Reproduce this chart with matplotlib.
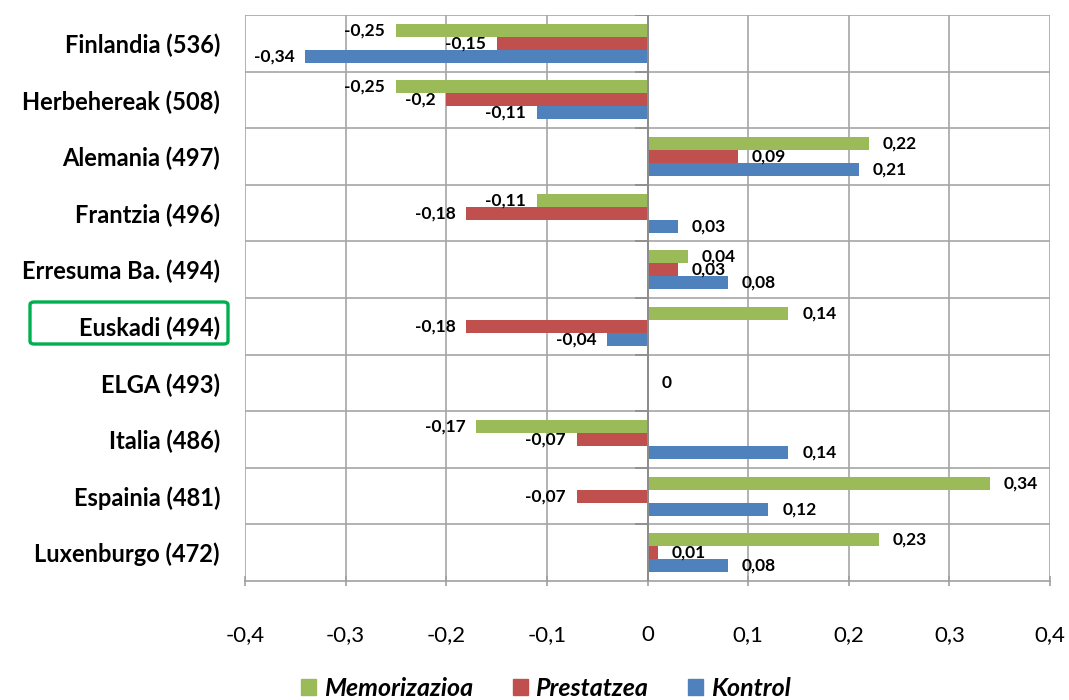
#librerias
import matplotlib.pyplot as plt
import matplotlib.patches as patches
import numpy as np

#datos
paises = ['Finlandia (536)', 'Herbehereak (508)', 'Alemania (497)', 'Frantzia (496)',
          'Erresuma Ba. (494)', 'Euskadi (494)', 'ELGA (493)', 'Italia (486)',
          'Espainia (481)', 'Luxenburgo (472)']
memorizazioa = [-0.25, -0.25, 0.22, -0.11, 0.04, 0.14, None, -0.17, 0.34, 0.23]
prestatzea = [-0.15, -0.2, 0.09, -0.18, 0.03, -0.18, 0, -0.07, -0.07, 0.01]
kontrol = [-0.34, -0.11, 0.21, 0.03, 0.08, -0.04, None, 0.14, 0.12, 0.08]
ticksX = [-0.4, -0.3, -0.2, -0.1, 0, 0.1, 0.2, 0.3, 0.4]

series = [('Memorizazioa', memorizazioa, '#9BBB59'),
          ('Prestatzea', prestatzea, '#C0504D'),
          ('Kontrol', kontrol, '#4F81BD')]

plt.rcParams['font.family'] = ['Lato', 'DejaVu Sans']

fig = plt.figure(figsize=(10.69, 7), dpi=100)
ax = fig.add_axes([245/1069, 1-581/700, (1050-245)/1069, (581-15)/700])

y = np.arange(len(paises))
alto = 0.23
handles = []
for k, (nombre, valores, color) in enumerate(series):
    pos = y + (k-1)*alto
    for yi, v in zip(pos, valores):
        if v is None:
            continue
        ax.barh(yi, v, height=alto, color=color, zorder=3)
        txt = ('%g' % v).replace('.', ',')
        if v < 0:
            ax.annotate(txt, (v, yi), xytext=(-8, 0), textcoords='offset points',
                        ha='right', va='center', fontsize=12.5, fontweight='bold', zorder=5)
        else:
            ax.annotate(txt, (v, yi), xytext=(10, 0), textcoords='offset points',
                        ha='left', va='center', fontsize=12.5, fontweight='bold', zorder=5)
    handles.append(patches.Patch(color=color, label=nombre))

#ejes
ax.set_xlim(-0.4, 0.4)
ax.set_ylim(len(paises)-0.5, -0.5)
ax.set_xticks(ticksX)
ax.set_xticklabels([('%g' % t).replace('.', ',') for t in ticksX], fontsize=16)
ax.set_yticks(y)
ax.set_yticklabels(paises, fontsize=17, fontweight='bold')
ax.tick_params(axis='y', length=0, pad=18)
ax.tick_params(axis='x', length=7, direction='inout', color='#A0A0A0', pad=28, width=1.2)

for s in ['top', 'right', 'left']:
    ax.spines[s].set_visible(False)
ax.spines['bottom'].set_color('#A0A0A0')
ax.spines['bottom'].set_linewidth(1.2)

#rejilla
for t in ticksX:
    ax.axvline(t, color='#A6A6A6', lw=1.2, zorder=1)
for b in np.arange(-0.5, len(paises)-0.5):
    ax.axhline(b, color='#A6A6A6', lw=1.2, zorder=1)
    ax.hlines(b, -0.012, 0, color='#8C8C8C', lw=1.2, zorder=4)
ax.axvline(0, color='#8C8C8C', lw=1.4, zorder=4)

#recuadro Euskadi
caja = patches.FancyBboxPatch((30/1069, 1-344/700), 198/1069, 42/700,
                              boxstyle='round,pad=0,rounding_size=0.004',
                              transform=fig.transFigure, fill=False,
                              edgecolor='#00B050', lw=2.4)
fig.patches.append(caja)

#leyenda
fig.legend(handles=handles, loc='center', bbox_to_anchor=(546/1069, 1-688/700), ncol=3,
           frameon=False, prop={'size': 18, 'weight': 'bold', 'style': 'italic'},
           handlelength=0.6, handleheight=0.6, handletextpad=0.3, columnspacing=1.6)

plt.savefig('out.png', dpi=100)
